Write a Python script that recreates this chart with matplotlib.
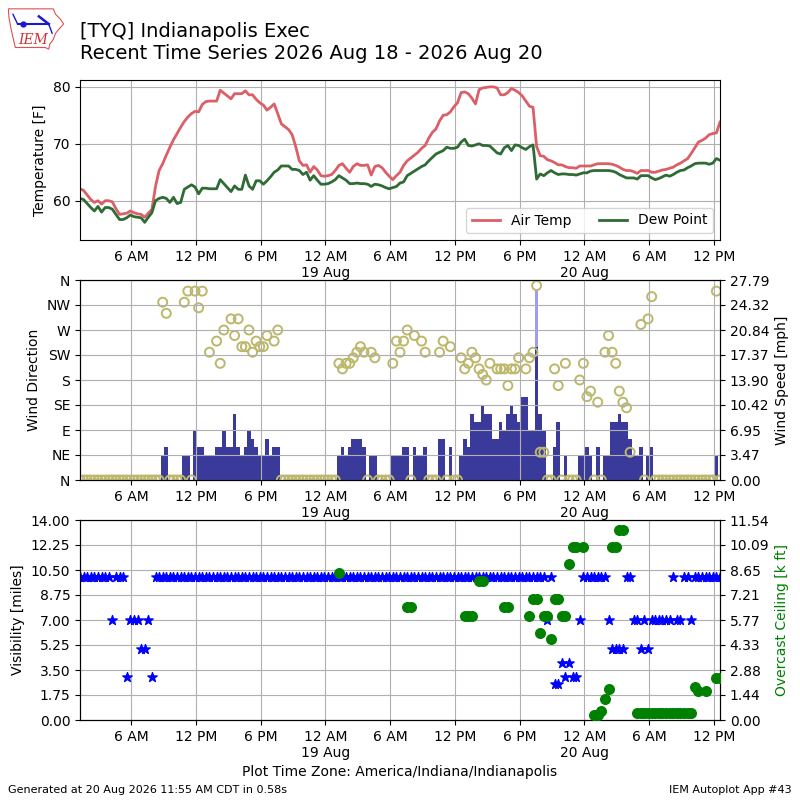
import datetime
import matplotlib
matplotlib.use("Agg")
import matplotlib.pyplot as plt
import matplotlib.dates as mdates
from matplotlib.patches import Polygon
from matplotlib.ticker import FuncFormatter
import numpy as np

# ---------------- data (observations every 20 minutes, local time) ----------------
obs_start = datetime.datetime(2026, 8, 18, 1, 15)
obs_step_min = 20

temp_f = [
    62.1, 61.8, 61.0, 60.2, 59.7, 60.0, 59.4, 60.0, 60.0, 59.8,
    58.6, 57.6, 57.7, 57.8, 58.2, 57.9, 57.7, 57.6, 57.1, 57.8,
    58.5, 62.5, 65.3, 66.5, 68.0, 69.4, 70.7, 71.8, 72.9, 73.9,
    74.7, 75.3, 75.7, 75.6, 76.9, 77.4, 77.5, 77.5, 77.5, 79.4,
    78.9, 78.4, 77.9, 78.8, 78.8, 78.8, 79.3, 78.6, 78.6, 77.8,
    77.2, 76.8, 75.9, 76.4, 77.0, 75.3, 73.5, 73.0, 72.5, 71.6,
    69.5, 67.0, 66.2, 66.3, 65.0, 66.0, 65.4, 64.4, 64.3, 64.4,
    64.6, 65.3, 66.2, 66.5, 65.7, 65.0, 66.0, 66.5, 66.2, 66.2,
    66.3, 64.5, 66.0, 66.2, 65.8, 65.0, 64.3, 63.7, 64.4, 65.0,
    66.2, 67.0, 67.5, 68.0, 68.5, 69.2, 69.7, 71.0, 72.0, 72.6,
    74.0, 75.0, 75.1, 75.6, 76.5, 77.2, 79.0, 79.1, 78.8, 78.0,
    77.0, 79.5, 79.8, 79.9, 80.0, 80.0, 79.8, 78.6, 78.6, 79.0,
    79.7, 79.4, 79.0, 78.4, 77.5, 76.6, 76.4, 69.5, 67.9, 67.8,
    67.2, 67.0, 66.7, 66.3, 66.3, 66.0, 65.8, 65.8, 65.7, 66.1,
    66.1, 66.1, 66.1, 66.3, 66.5, 66.5, 66.5, 66.5, 66.4, 66.2,
    65.9, 65.5, 65.3, 65.3, 65.1, 64.8, 65.3, 65.3, 65.3, 65.0,
    65.0, 65.2, 65.4, 65.5, 65.7, 65.9, 66.3, 66.6, 67.0, 67.4,
    68.3, 69.3, 70.3, 70.6, 71.0, 71.6, 71.8, 71.9, 73.8,
]

dewpoint_f = [
    60.4, 60.2, 59.5, 58.8, 58.2, 59.0, 58.0, 58.8, 58.8, 58.5,
    57.6, 56.7, 56.7, 57.0, 57.5, 57.2, 57.1, 57.0, 56.2, 57.1,
    57.9, 60.0, 60.4, 60.6, 60.4, 59.7, 60.6, 59.5, 59.7, 62.0,
    62.4, 62.8, 62.4, 61.2, 62.2, 62.2, 62.1, 62.1, 62.1, 63.7,
    63.0, 62.3, 61.6, 62.6, 62.0, 62.0, 64.5, 62.6, 62.0, 63.5,
    63.5, 62.9, 63.5, 64.2, 65.0, 65.4, 66.1, 66.1, 66.1, 65.5,
    65.5, 65.3, 64.6, 65.0, 63.6, 64.4, 63.6, 62.9, 62.9, 63.0,
    63.3, 63.7, 64.4, 64.0, 63.6, 63.0, 63.0, 63.1, 63.0, 63.0,
    62.9, 62.5, 62.9, 62.8, 62.6, 62.3, 62.1, 62.3, 62.5, 63.1,
    63.3, 64.4, 64.8, 65.2, 65.6, 66.0, 66.3, 67.0, 67.6, 68.2,
    68.5, 68.8, 69.4, 69.2, 69.2, 69.4, 70.3, 70.8, 69.7, 69.6,
    69.8, 70.0, 69.7, 69.7, 69.6, 69.0, 68.4, 68.2, 69.3, 69.7,
    68.8, 69.8, 69.7, 69.3, 69.0, 69.5, 69.8, 63.8, 64.7, 64.4,
    64.9, 65.3, 64.9, 64.6, 64.7, 64.7, 64.6, 64.6, 64.5, 64.7,
    64.9, 64.9, 65.2, 65.3, 65.3, 65.3, 65.3, 65.3, 65.2, 65.0,
    64.6, 64.3, 64.0, 64.0, 64.0, 63.8, 64.4, 64.4, 64.4, 64.0,
    63.7, 63.9, 64.2, 64.5, 64.3, 64.6, 65.0, 65.3, 65.4, 65.8,
    66.1, 66.5, 66.6, 66.6, 66.6, 66.4, 66.6, 67.4, 67.1,
]

N = np.nan
wind_dir_deg = [
    0, 0, 0, 0, 0, 0, 0, 0, 0, 0,
    0, 0, 0, 0, 0, 0, 0, 0, 0, 0,
    0, 0, 0, 320, 300, 0, 0, 0, 0, 320,
    340, 0, 340, 310, 340, N, 230, N, 250, 210,
    270, N, 290, 260, 290, 240, 240, 270, 230, 250,
    240, 240, 260, N, 250, 270, 0, 0, 0, 0,
    0, 0, 0, 0, 0, 0, 0, 0, 0, 0,
    0, 0, 210, 200, 210, 210, 220, 230, 240, 230,
    0, 230, 220, 0, 0, 0, 0, 210, 250, 230,
    250, 270, 0, 260, N, 250, 230, 0, 0, 0,
    230, 250, 0, 240, 0, 0, 220, 200, 210, 230,
    220, 200, 190, 180, 210, N, 200, 200, 200, 170,
    200, 200, 220, N, 200, 220, 230, 350, 50, 50,
    0, 0, 200, 170, 0, 210, 0, 0, 0, 180,
    210, 150, 160, 0, 140, 0, 230, 260, 230, 210,
    160, 140, 130, 50, N, N, 280, 0, 290, 330,
    0, 0, 0, 0, 0, 0, 0, 0, 0, 0,
    0, 0, 0, 0, 0, 0, 0, 340, 0,
]

wind_speed_kt = [
    0, 0, 0, 0, 0, 0, 0, 0, 0, 0,
    0, 0, 0, 0, 0, 0, 0, 0, 0, 0,
    0, 0, 0, 3, 4, 0, 0, 0, 0, 3,
    3, 0, 6, 4, 4, 3, 3, 3, 4, 4,
    6, 4, 4, 8, 4, 3, 4, 6, 5, 4,
    3, 3, 5, 3, 4, 4, 0, 0, 0, 0,
    0, 0, 0, 0, 0, 0, 0, 0, 0, 0,
    0, 0, 3, 4, 3, 4, 5, 5, 5, 4,
    0, 3, 3, 0, 0, 0, 0, 3, 3, 3,
    4, 4, 0, 4, 3, 3, 4, 0, 0, 0,
    5, 5, 0, 4, 0, 0, 3, 5, 4, 8,
    7, 7, 9, 8, 8, 5, 5, 7, 6, 8,
    9, 8, 7, 10, 10, 6, 6, 16, 8, 6,
    0, 0, 4, 7, 0, 3, 0, 0, 0, 3,
    3, 4, 3, 0, 4, 0, 3, 3, 7, 7,
    8, 7, 7, 5, 3, 3, 4, 0, 3, 4,
    0, 0, 0, 0, 0, 0, 0, 0, 0, 0,
    0, 0, 0, 0, 0, 0, 0, 3, 0,
]

gust_obs_index = [127]
gust_kt = [23]

visibility_mi = [
    10, 10, 10, 10, 10, 10, 10, 10, 10, 7,
    10, 10, 10, 3, 7, 7, 7, 5, 5, 7,
    3, 10, 10, 10, 10, 10, 10, 10, 10, 10,
    10, 10, 10, 10, 10, 10, 10, 10, 10, 10,
    10, 10, 10, 10, 10, 10, 10, 10, 10, 10,
    10, 10, 10, 10, 10, 10, 10, 10, 10, 10,
    10, 10, 10, 10, 10, 10, 10, 10, 10, 10,
    10, 10, 10, 10, 10, 10, 10, 10, 10, 10,
    10, 10, 10, 10, 10, 10, 10, 10, 10, 10,
    10, 10, 10, 10, 10, 10, 10, 10, 10, 10,
    10, 10, 10, 10, 10, 10, 10, 10, 10, 10,
    10, 10, 10, 10, 10, 10, 10, 10, 10, 10,
    10, 10, 10, 10, 10, 10, 10, 10, 10, 10,
    7, 10, 2.5, 2.5, 4, 3, 4, 3, 3, 7,
    10, 10, 10, 10, 10, 10, 10, 7, 5, 5,
    5, 5, 10, 10, 7, 7, 5, 7, 5, 7,
    7, 7, 7, 7, 7, 10, 7, 7, 10, 10,
    7, 10, 10, 10, 10, 10, 10, 10, 10,
]

ceiling_obs_index = [
    72, 91, 92, 107, 108, 109, 111, 112, 118, 119,
    125, 126, 127, 128, 129, 130, 131, 132, 133, 134,
    135, 136, 137, 138, 140, 143, 144, 145, 146, 147,
    148, 149, 150, 151, 155, 156, 157, 158, 159, 160,
    161, 162, 163, 164, 165, 166, 167, 168, 169, 170,
    171, 172, 174, 177, 178,
]
ceiling_kft = [
    8.5, 6.5, 6.5, 6.0, 6.0, 6.0, 8.0, 8.0, 6.5, 6.5,
    6.0, 7.0, 7.0, 5.0, 6.0, 6.0, 4.7, 7.0, 7.0, 6.0,
    6.0, 9.0, 10.0, 10.0, 10.0, 0.3, 0.3, 0.5, 1.2, 1.8,
    10.0, 10.0, 10.987, 10.987, 0.4, 0.4, 0.4, 0.4, 0.4, 0.4,
    0.4, 0.4, 0.4, 0.4, 0.4, 0.4, 0.4, 0.4, 0.4, 0.4,
    1.9, 1.7, 1.7, 2.4, 2.4,
]

# ---------------- derived ----------------
n_obs = len(temp_f)
times = [obs_start + datetime.timedelta(minutes=obs_step_min * i) for i in range(n_obs)]
KT2MPH = 1.15078
speed_mph = np.array(wind_speed_kt, float) * KT2MPH
gust_mph = np.array(gust_kt, float) * KT2MPH
gust_times = [times[i] for i in gust_obs_index]
ceil_times = [times[i] for i in ceiling_obs_index]
bar_width = obs_step_min / 1440.0

speed_top = max(gust_mph) * 1.05
ceil_top = max(ceiling_kft) * 1.05


def fmt_time(x, pos=None):
    dt = mdates.num2date(x)
    h = dt.hour
    lbl = f"{(h % 12) or 12} {'AM' if h < 12 else 'PM'}"
    if h == 0:
        lbl += "\n" + dt.strftime("%d %b").lstrip("0")
    return lbl


def style_time_axis(ax):
    ax.set_xlim(times[0], times[-1])
    ax.xaxis.set_major_locator(mdates.HourLocator(byhour=[0, 6, 12, 18]))
    ax.xaxis.set_major_formatter(FuncFormatter(fmt_time))


fig = plt.figure(figsize=(8, 8), dpi=100)

# ---------------- temperature panel ----------------
ax1 = fig.add_axes([0.1, 0.7, 0.8, 0.2])
ax1.plot(times, temp_f, color="#dc5f68", lw=2, label="Air Temp")
ax1.plot(times, dewpoint_f, color="#2f6b34", lw=2, label="Dew Point")
ax1.set_ylim(53.1, 81.2)
ax1.set_yticks([60, 70, 80])
ax1.grid(True)
ax1.set_ylabel("Temperature [F]")
ax1.legend(loc="lower right", ncol=2, fontsize=10)
style_time_axis(ax1)

# ---------------- wind panel ----------------
ax2 = fig.add_axes([0.1, 0.4, 0.8, 0.25])
ax2b = ax2.twinx()
ax2b.bar(gust_times, gust_mph, width=bar_width, color="#9d9df2", lw=0)
ax2b.bar(times, speed_mph, width=bar_width, color="#3a3a9a", lw=0)
ax2b.set_ylim(0, speed_top)
sp_ticks = np.linspace(0, speed_top, 9)
ax2b.set_yticks(sp_ticks)
ax2b.set_yticklabels([f"{v:.2f}" for v in sp_ticks])
ax2b.set_ylabel("Wind Speed [mph]")
ax2.scatter(times, wind_dir_deg, s=42, facecolors="none", edgecolors="#bdb76b", linewidths=1.4)
ax2.set_ylim(0, 360)
ax2.set_yticks(range(0, 361, 45))
ax2.set_yticklabels(["N", "NE", "E", "SE", "S", "SW", "W", "NW", "N"])
ax2.set_ylabel("Wind Direction")
ax2.grid(True)
ax2.set_zorder(ax2b.get_zorder() + 1)
ax2.patch.set_visible(False)
style_time_axis(ax2)
style_time_axis(ax2b)

# ---------------- visibility / ceiling panel ----------------
ax3 = fig.add_axes([0.1, 0.1, 0.8, 0.25])
ax3.scatter(times, visibility_mi, marker="*", s=50, color="blue", zorder=3)
ax3.set_ylim(0, 14)
vis_ticks = np.linspace(0, 14, 9)
ax3.set_yticks(vis_ticks)
ax3.set_yticklabels([f"{v:.2f}" for v in vis_ticks])
ax3.set_ylabel("Visibility [miles]")
ax3.grid(True)
ax3b = ax3.twinx()
ax3b.scatter(ceil_times, ceiling_kft, s=48, color="green", zorder=3)
ax3b.set_ylim(0, ceil_top)
c_ticks = np.linspace(0, ceil_top, 9)
ax3b.set_yticks(c_ticks)
ax3b.set_yticklabels([f"{v:.2f}" for v in c_ticks])
ax3b.set_ylabel("Overcast Ceiling [k ft]", color="green")
style_time_axis(ax3)
style_time_axis(ax3b)
ax3.set_xlabel("Plot Time Zone: America/Indiana/Indianapolis")

# ---------------- titles / logo / footer ----------------
fig.text(0.1, 0.947, "[TYQ] Indianapolis Exec\nRecent Time Series 2026 Aug 18 - 2026 Aug 20",
         fontsize=14, va="center", ha="left")

axl = fig.add_axes([0.009, 0.9375, 0.072, 0.0525])
axl.set_xlim(0, 1)
axl.set_ylim(0, 1)
axl.axis("off")
iowa = [(0.02, 0.98), (0.80, 0.98), (0.84, 0.85), (0.92, 0.74), (0.98, 0.62),
        (0.90, 0.50), (0.84, 0.40), (0.80, 0.25), (0.74, 0.14), (0.72, 0.02),
        (0.66, 0.06), (0.14, 0.06), (0.10, 0.30), (0.06, 0.55), (0.03, 0.78)]
axl.add_patch(Polygon(iowa, closed=True, fill=False, edgecolor="#e05050", lw=0.8))
axl.plot([0.18, 0.72], [0.62, 0.62], color="#1a1acc", lw=1.5)
axl.plot([0.72, 0.78], [0.62, 0.40], color="#1a1acc", lw=1.0)
axl.plot([0.55, 0.72], [0.80, 0.62], color="#1a1acc", lw=1.8)
axl.plot([0.18, 0.10], [0.62, 0.85], color="#1a1acc", lw=1.0)
axl.plot([0.28], [0.62], marker="o", ms=3.5, color="#1a1acc")
axl.text(0.45, 0.25, "IEM", color="#d03030", fontsize=10, style="italic",
         family="DejaVu Serif", ha="center", va="center")

fig.text(0.01, 0.006, "Generated at 20 Aug 2026 11:55 AM CDT in 0.58s", fontsize=8, ha="left", va="bottom")
fig.text(0.99, 0.006, "IEM Autoplot App #43", fontsize=8, ha="right", va="bottom")

fig.savefig("out.png", dpi=100)
